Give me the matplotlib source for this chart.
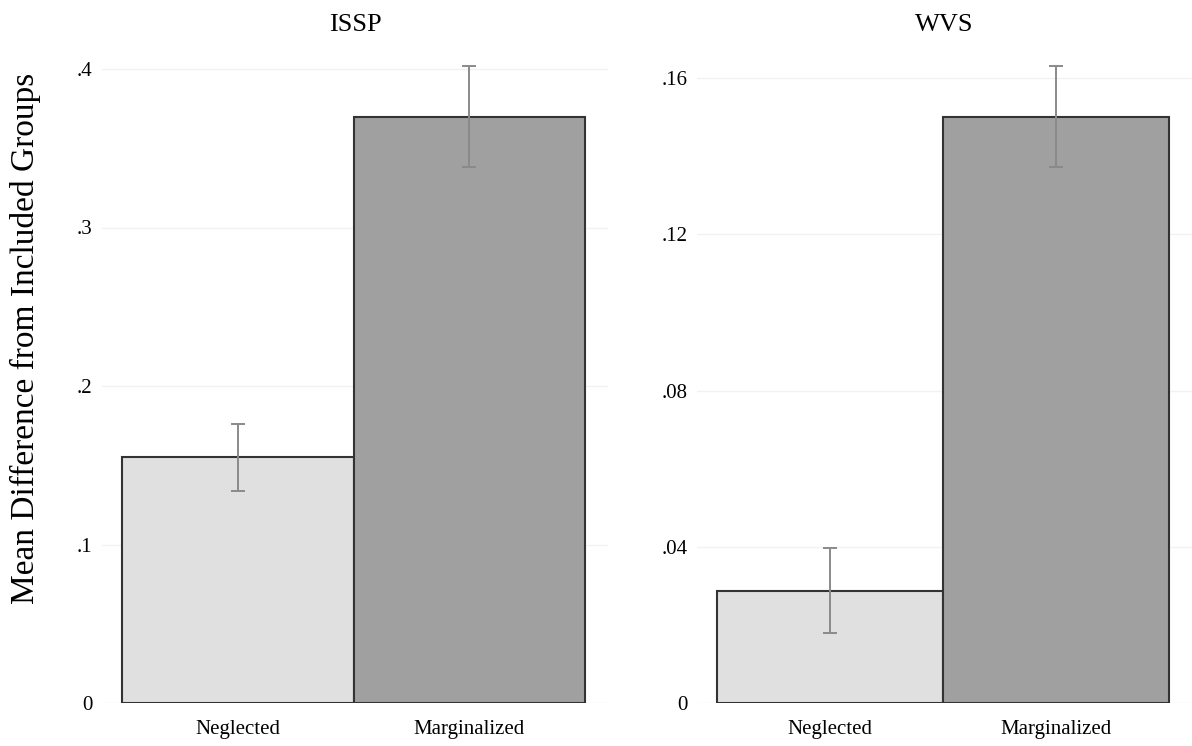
import matplotlib.pyplot as plt
import numpy as np

# --- Dados ---
grupos = ["Neglected", "Marginalized"]

issp_media = [0.155, 0.370]
issp_inf = [0.134, 0.338]
issp_sup = [0.176, 0.402]
issp_ticks = [0, 0.1, 0.2, 0.3, 0.4]
issp_labels = ["0", ".1", ".2", ".3", ".4"]

wvs_media = [0.0287, 0.150]
wvs_inf = [0.0179, 0.1372]
wvs_sup = [0.0397, 0.1631]
wvs_ticks = [0, 0.04, 0.08, 0.12, 0.16]
wvs_labels = ["0", ".04", ".08", ".12", ".16"]

# --- Estilo ---
plt.rcParams['font.family'] = ['Liberation Serif', 'DejaVu Serif']
cores = ["#e0e0e0", "#a0a0a0"]
W, H = 1192, 746

fig = plt.figure(figsize=(W / 100, H / 100), dpi=100)

base = (H - 703) / H
altura = (703 - 50) / H
ax1 = fig.add_axes([102 / W, base, 506 / W, altura])
ax2 = fig.add_axes([697 / W, base, 495 / W, altura])


def painel(ax, titulo, media, inf, sup, ticks, labels, ytopo):
    x = np.arange(len(grupos))
    ax.bar(x, media, width=1.0, color=cores, edgecolor="#333333",
           linewidth=1.5, zorder=2)
    media = np.array(media)
    erros = [media - np.array(inf), np.array(sup) - media]
    ax.errorbar(x, media, yerr=erros, fmt="none", ecolor="#8a8a8a",
                elinewidth=1.4, capsize=5, capthick=1.4, zorder=3)
    ax.set_xlim(-0.588, 1.6)
    ax.set_ylim(0, ytopo)
    ax.set_yticks(ticks)
    ax.set_yticklabels(labels)
    ax.set_xticks(x)
    ax.set_xticklabels(grupos)
    ax.tick_params(axis="y", length=0, pad=7, labelsize=15)
    ax.tick_params(axis="x", length=0, pad=12, labelsize=15)
    ax.grid(axis="y", color="#f2f2f2", linewidth=1.0, zorder=0)
    ax.set_axisbelow(True)
    for s in ax.spines.values():
        s.set_visible(False)
    ax.set_title(titulo, fontsize=19, pad=14)


painel(ax1, "ISSP", issp_media, issp_inf, issp_sup, issp_ticks, issp_labels,
       (703 - 50) / 1585)
painel(ax2, "WVS", wvs_media, wvs_inf, wvs_sup, wvs_ticks, wvs_labels,
       (703 - 50) / 3906)

fig.text(25 / W, 1 - 338 / H, "Mean Difference from Included Groups",
         rotation=90, ha="center", va="center", fontsize=24)

fig.savefig("out.png", dpi=100)
